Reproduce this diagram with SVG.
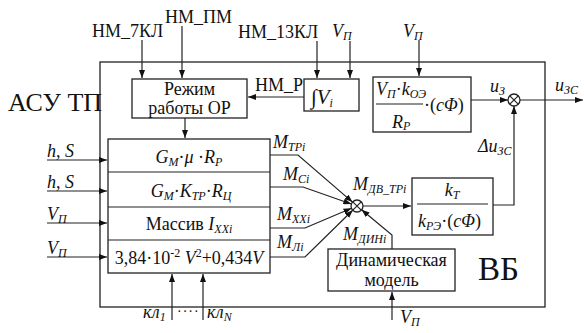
<svg xmlns="http://www.w3.org/2000/svg" width="584" height="333" viewBox="0 0 584 333" font-family="Liberation Serif, serif">
<defs>
<marker id="ar" markerUnits="userSpaceOnUse" markerWidth="9" markerHeight="6" refX="8" refY="3" orient="auto">
<path d="M0,0 L8,3 L0,6 z" fill="#111"/>
</marker>
<style>
.ln{stroke:#222;stroke-width:1.2;fill:none}
.bx{fill:#fff;stroke:#222;stroke-width:1.3}
.t{font-size:18px;fill:#111}
.i{font-style:italic;font-size:18px;fill:#111}
.s{font-size:12px}
.big{font-size:26px;fill:#111}
</style>
</defs>
<rect width="584" height="333" fill="#fff"/>
<g id="outer"><rect x="100" y="62" width="445" height="245" fill="none" stroke="#222" stroke-width="1.3"/></g>

<g id="connectors">
<path class="ln" d="M142,40 V78" marker-end="url(#ar)"/>
<path class="ln" d="M182,26 V78" marker-end="url(#ar)"/>
<path class="ln" d="M317,41 V78" marker-end="url(#ar)"/>
<path class="ln" d="M350,41 V78" marker-end="url(#ar)"/>
<path class="ln" d="M304,97 H248" marker-end="url(#ar)"/>
<path class="ln" d="M419,40 V76" marker-end="url(#ar)"/>
<path class="ln" d="M185,118 V138" marker-end="url(#ar)"/>
<path class="ln" d="M47,160 H107" marker-end="url(#ar)"/>
<path class="ln" d="M47,191 H107" marker-end="url(#ar)"/>
<path class="ln" d="M47,223 H107" marker-end="url(#ar)"/>
<path class="ln" d="M47,257 H107" marker-end="url(#ar)"/>
<path class="ln" d="M471,100 H508" marker-end="url(#ar)"/>
<path class="ln" d="M520,100 H583" marker-end="url(#ar)"/>
<path class="ln" d="M493,205 H514 V106" marker-end="url(#ar)"/>
<path class="ln" d="M363,206 H411" marker-end="url(#ar)"/>
<path class="ln" d="M270,155 H298 L352.5,202.1" marker-end="url(#ar)"/>
<path class="ln" d="M270,187 H303 L351.3,204" marker-end="url(#ar)"/>
<path class="ln" d="M270,228 H305 L351.5,208.3" marker-end="url(#ar)"/>
<path class="ln" d="M270,257 H305 L352.7,210.2" marker-end="url(#ar)"/>
<path class="ln" d="M392,249 V235 L361.6,209.8" marker-end="url(#ar)"/>
<path class="ln" d="M392,320 V292" marker-end="url(#ar)"/>
<path class="ln" d="M172,320 V274" marker-end="url(#ar)"/>
<path class="ln" d="M203,320 V274" marker-end="url(#ar)"/>
</g>

<g id="labels" font-family="Liberation Serif">
<text class="big" x="8" y="111">АСУ ТП</text>
<text class="big" x="478" y="280" style="font-size:33px">ВБ</text>
<text class="t" x="92" y="37">НМ_7КЛ</text>
<text class="t" x="165" y="23">НМ_ПМ</text>
<text class="t" x="238" y="38">НМ_13КЛ</text>
<text class="i" x="332" y="37">V<tspan class="s" dy="3">П</tspan></text>
<text class="i" x="403" y="37">V<tspan class="s" dy="3">П</tspan></text>
<text class="t" x="255" y="91">НМ_Р</text>
<text class="i" x="47" y="157">h, S</text>
<text class="i" x="47" y="188">h, S</text>
<text class="i" x="47" y="220">V<tspan class="s" dy="3">П</tspan></text>
<text class="i" x="47" y="254">V<tspan class="s" dy="3">П</tspan></text>
<text class="i" x="490" y="92">u<tspan class="s" dy="3">З</tspan></text>
<text class="i" x="555" y="91">u<tspan class="s" dy="3">ЗС</tspan></text>
<text class="i" x="478" y="152">Δu<tspan class="s" dy="3">ЗС</tspan></text>
<text class="i" x="353" y="190">M<tspan class="s" dy="3">ДВ_ТРi</tspan></text>
<text class="i" x="273" y="148">M<tspan class="s" dy="3">ТРi</tspan></text>
<text class="i" x="283" y="180">M<tspan class="s" dy="3">Ci</tspan></text>
<text class="i" x="277" y="220">M<tspan class="s" dy="3">XXi</tspan></text>
<text class="i" x="277" y="248">M<tspan class="s" dy="3">Лi</tspan></text>
<text class="i" x="343" y="240">M<tspan class="s" dy="3">ДИНi</tspan></text>
<text class="i" x="400" y="323">V<tspan class="s" dy="3">П</tspan></text>
<text class="i" x="143" y="318">кл<tspan class="s" dy="3">1</tspan></text>
<text class="t" x="177" y="316" style="font-size:14px;letter-spacing:1px">····</text>
<text class="i" x="207" y="318">кл<tspan class="s" dy="3">N</tspan></text>
</g>

<g id="rezhim" font-family="Liberation Serif">
<rect class="bx" x="132" y="79" width="115" height="39"/>
<text class="t" x="189.5" y="95" text-anchor="middle">Режим</text>
<text class="t" x="189.5" y="114" text-anchor="middle">работы ОР</text>
</g>

<g id="integral" font-family="Liberation Serif">
<rect class="bx" x="304" y="79" width="55" height="32"/>
<text class="i" x="311" y="104" style="font-size:21px">∫V<tspan class="s" dy="3">i</tspan></text>
</g>

<g id="formula1" font-family="Liberation Serif">
<rect class="bx" x="373" y="77" width="98" height="55"/>
<text class="i" x="376" y="95">V<tspan class="s" dy="3">П</tspan><tspan dy="-3" font-style="normal">·</tspan>k<tspan class="s" dy="3">ОЭ</tspan></text>
<line class="ln" x1="376" y1="104" x2="423" y2="104"/>
<text class="i" x="392" y="128">R<tspan class="s" dy="2">P</tspan></text>
<text class="i" x="424" y="111"><tspan font-style="normal">·(</tspan>cΦ<tspan font-style="normal">)</tspan></text>
</g>

<g id="sum1">
<circle class="bx" cx="514" cy="100" r="6"/>
<path class="ln" d="M509.8,95.8 L518.2,104.2 M518.2,95.8 L509.8,104.2"/>
</g>

<g id="sum2">
<circle class="bx" cx="357" cy="206" r="6"/>
<path class="ln" d="M352.8,201.8 L361.2,210.2 M361.2,201.8 L352.8,210.2"/>
</g>

<g id="kt" font-family="Liberation Serif">
<rect class="bx" x="412" y="178" width="81" height="57"/>
<text class="i" x="452" y="196" text-anchor="middle">k<tspan class="s" dy="3">T</tspan></text>
<line class="ln" x1="417" y1="204" x2="488" y2="204"/>
<text class="i" x="418" y="227">k<tspan class="s" dy="3">РЭ</tspan><tspan dy="-3" font-style="normal">·(</tspan>cΦ<tspan font-style="normal">)</tspan></text>
</g>

<g id="stack" font-family="Liberation Serif">
<rect class="bx" x="108" y="139" width="162" height="134"/>
<line class="ln" x1="108" y1="172" x2="270" y2="172"/>
<line class="ln" x1="108" y1="207" x2="270" y2="207"/>
<line class="ln" x1="108" y1="240" x2="270" y2="240"/>
<text class="i" x="189" y="163" text-anchor="middle">G<tspan class="s" dy="3">M</tspan><tspan dy="-3" font-style="normal">·</tspan>μ <tspan font-style="normal">·</tspan>R<tspan class="s" dy="3">P</tspan></text>
<text class="i" x="191" y="197" text-anchor="middle">G<tspan class="s" dy="3">M</tspan><tspan dy="-3" font-style="normal">·</tspan>K<tspan class="s" dy="3">TP</tspan><tspan dy="-3" font-style="normal">·</tspan>R<tspan class="s" dy="3">Ц</tspan></text>
<text class="t" x="189" y="230" text-anchor="middle">Массив <tspan font-style="italic">I<tspan class="s" dy="3">XXi</tspan></tspan></text>
<text class="t" x="189" y="264" text-anchor="middle">3,84·10<tspan class="s" dy="-7">-2</tspan><tspan dy="7" font-style="italic"> V</tspan><tspan class="s" dy="-7">2</tspan><tspan dy="7">+0,434</tspan><tspan font-style="italic">V</tspan></text>
</g>

<g id="dyn" font-family="Liberation Serif">
<rect class="bx" x="328" y="249" width="127" height="42"/>
<text class="t" x="391.5" y="266" text-anchor="middle">Динамическая</text>
<text class="t" x="391.5" y="286" text-anchor="middle">модель</text>
</g>
</svg>
